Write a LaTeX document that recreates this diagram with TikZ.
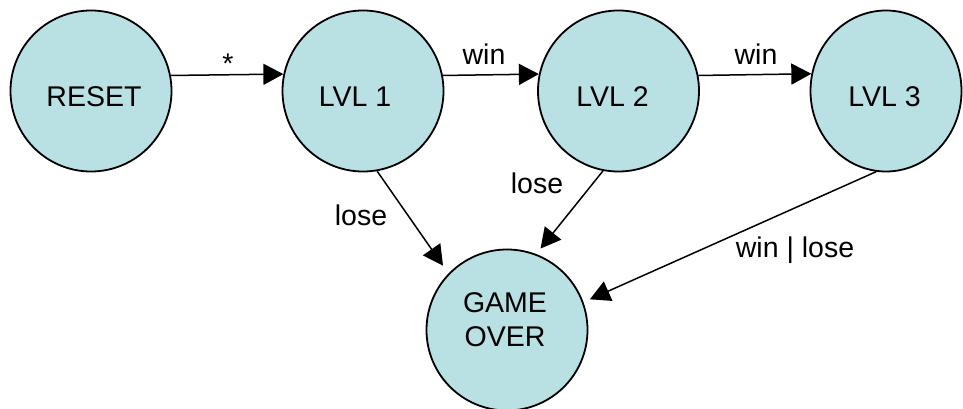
\documentclass[tikz,border=0pt]{standalone}
\usepackage{fontspec}
\setmainfont{Liberation Sans}
\usetikzlibrary{arrows.meta,shapes.geometric}
\definecolor{statefill}{RGB}{185,224,227}
\begin{document}
\begin{tikzpicture}[x=1pt,y=-1pt,
  font=\fontsize{28.5}{34}\selectfont,
  statebox/.style={circle,draw=black,line width=1.8pt,fill=statefill,minimum size=161pt,inner sep=0pt},
  txt/.style={anchor=base,inner sep=0pt,align=center},
  conn/.style={line width=1.5pt,-{Triangle[length=20pt,width=21pt]}},
  lbl/.style={anchor=base,inner sep=0pt}]
\useasboundingbox (0,0) rectangle (963,409);
\node[statebox,label={[txt,xshift=3pt,yshift=-6pt]center:RESET}] (reset) at (91,91) {};
\node[statebox,label={[txt,xshift=-8pt,yshift=-6pt]center:LVL 1}] (lvl1) at (363,91) {};
\node[statebox,label={[txt,xshift=-6pt,yshift=-6pt]center:LVL 2}] (lvl2) at (618.5,91) {};
\node[ellipse,draw=black,line width=1.8pt,fill=statefill,minimum width=151pt,minimum height=161pt,inner sep=0pt,
  label={[txt,xshift=-1.5pt,yshift=-6pt]center:LVL 3}] (lvl3) at (886,91) {};
\node[statebox,label={[txt,xshift=-2pt,yshift=10pt]center:GAME\\OVER}] (go) at (507,330) {};
\draw[conn] (reset.11.4) -- (lvl1.168.6);
\draw[conn] (lvl1.11.4) -- (lvl2.168.6);
\draw[conn] (lvl2.11.4) -- (lvl3.167.9);
\draw[conn,shorten >=9.5pt] (lvl1.280.6) -- (go.136.3);
\draw[conn,shorten >=7pt] (lvl2.259) -- (go.69.7);
\draw[conn,shorten >=7pt] (lvl3.263.6) -- (go.20.7);
\node[inner sep=0pt] (star) at (228,64) {*};
\node[lbl] (w1) at (484,65) {win};
\node[lbl] (w2) at (756,65) {win};
\node[lbl] (l1) at (361,225) {lose};
\node[lbl] (l2) at (537,193) {lose};
\node[lbl] (wl) at (795,257) {win | lose};
\end{tikzpicture}
\end{document}
